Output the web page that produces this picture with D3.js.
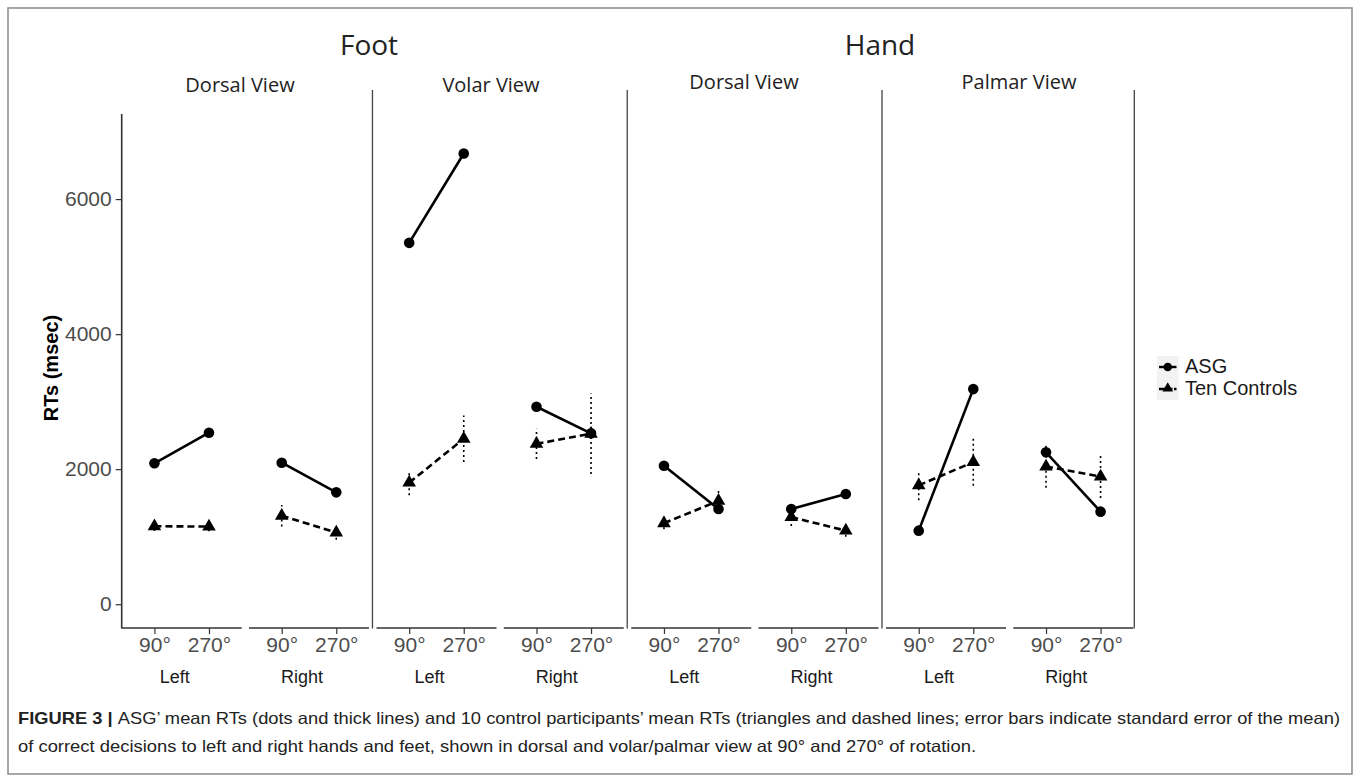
<!DOCTYPE html>
<html lang="en">
<head>
<meta charset="UTF-8">
<title>Figure 3 - mean RTs</title>
<script src="https://d3js.org/d3.v7.min.js"></script>
<style>
  *{padding:0; margin:0; box-sizing:border-box;}
  body{background:#fff;}
  text{font-family:"Liberation Sans", Arial, Helvetica, sans-serif;}
  .head{font-family:"Open Sans", sans-serif; fill:#222; text-anchor:middle;}
  .tick text{fill:#4d4d4d; font-size:21px;}
</style>
</head>
<body>
<script>
// panels: body part x view, each split into Left / Right, each with 90 and 270 deg
const bodyParts = ["Foot", "Hand"];
const views = ["Dorsal View", "Volar View", "Dorsal View", "Palmar View"];
const sides = ["Left", "Right"];
const angles = ["90°", "270°"];
const yTicks = [0, 2000, 4000, 6000];
const seriesNames = ["ASG", "Ten Controls"];

// [panel][side][angle]
const asgRT = [
  [[2087, 2540], [2096, 1657]],
  [[5352, 6675], [2925, 2531]],
  [[2051, 1410], [1410, 1632]],
  [[1090, 3186], [2250, 1371]]
];
const ctrlRT = [
  [[1155, 1150], [1310, 1060]],
  [[1800, 2450], [2375, 2525]],
  [[1200, 1530], [1290, 1090]],
  [[1760, 2105], [2040, 1890]]
];
const ctrlSE = [
  [[70, 70], [160, 105]],
  [[185, 345], [225, 595]],
  [[90, 180], [130, 90]],
  [[220, 350], [315, 315]]
];

const W = 1360, H = 781;
const svg = d3.select('body').append('svg').attr('width', W).attr('height', H);

// outer frame
svg.append('rect').attr('x', 8).attr('y', 8).attr('width', 1344).attr('height', 766)
   .attr('fill', 'none').attr('stroke', '#8a8a8a').attr('stroke-width', 1.5);

const y = d3.scaleLinear().domain([-352, 7260]).range([628, 114]);
const panelStart = d3.scaleLinear().domain([0, 3]).range([121.7, 886]);
const facetW = 120, facetStep = 127.3;
const xIn = d3.scalePoint().domain(angles).range([0, facetW]).padding(0.6);

function fx(p, s, a){ return panelStart(p) + s * facetStep + xIn(angles[a]); }

// y axis (first panel only)
const yAxis = svg.append('g')
  .attr('transform', 'translate(' + panelStart(0) + ',0)')
  .call(d3.axisLeft(y).tickValues(yTicks).tickFormat(d3.format('d')).tickSize(6).tickPadding(4));
yAxis.select('.domain').remove();
yAxis.selectAll('.tick line').attr('stroke', '#333').attr('stroke-width', 1.2);
svg.append('line').attr('x1', panelStart(0)).attr('x2', panelStart(0))
   .attr('y1', 114).attr('y2', 628.5).attr('stroke', '#333').attr('stroke-width', 1.6);

svg.append('text').attr('transform', 'translate(53,368) rotate(-90)')
   .attr('text-anchor', 'middle').attr('dominant-baseline', 'middle')
   .attr('font-weight', 'bold').attr('font-size', 20).attr('fill', '#000')
   .text('RTs (msec)');

// panel separators
for (let p = 1; p <= 4; p++) {
  const xl = p < 4 ? panelStart(p) - 4 : panelStart(3) + facetStep + facetW + 1;
  svg.append('line').attr('x1', xl).attr('x2', xl).attr('y1', 90).attr('y2', 628.5)
     .attr('stroke', '#444').attr('stroke-width', 1.3);
}

// x axis segments, ticks, labels
views.forEach(function(v, p){
  sides.forEach(function(s, si){
    const x0 = panelStart(p) + si * facetStep;
    const g = svg.append('g').attr('transform', 'translate(' + x0 + ',628)');
    g.call(d3.axisBottom(xIn).tickSize(6).tickPadding(3));
    g.select('.domain').attr('d', 'M0,0H' + facetW).attr('stroke', '#333').attr('stroke-width', 1.6);
    g.selectAll('.tick line').attr('stroke', '#333').attr('stroke-width', 1.2);
    g.selectAll('.tick text').attr('dy', '0.72em');
    svg.append('text').attr('x', x0 + facetW / 2 - 7).attr('y', 678)
       .attr('text-anchor', 'middle').attr('dominant-baseline', 'middle')
       .attr('font-size', 18).attr('fill', '#1a1a1a').text(s);
  });
});

// headers
const partX = [369, 880];
bodyParts.forEach(function(b, i){
  svg.append('text').attr('class', 'head').attr('x', partX[i]).attr('y', 55)
     .attr('font-size', 28).text(b);
});
const viewX = [240, 491, 744, 1019];
const viewY = [92, 92, 89, 89];
views.forEach(function(v, i){
  svg.append('text').attr('class', 'head').attr('x', viewX[i]).attr('y', viewY[i])
     .attr('font-size', 20).text(v);
});

// marks
const tri = d3.symbol().type(d3.symbolTriangle).size(80);
const plot = svg.append('g');
views.forEach(function(v, p){
  sides.forEach(function(s, si){
    const xa = fx(p, si, 0), xb = fx(p, si, 1);
    // error bars (controls)
    [0, 1].forEach(function(a){
      const x = fx(p, si, a), m = ctrlRT[p][si][a], e = ctrlSE[p][si][a];
      plot.append('line').attr('x1', x).attr('x2', x)
          .attr('y1', y(m - e)).attr('y2', y(m + e))
          .attr('stroke', '#000').attr('stroke-width', 1.6).attr('stroke-dasharray', '2,3');
    });
    // control dashed line
    plot.append('line').attr('x1', xa).attr('x2', xb)
        .attr('y1', y(ctrlRT[p][si][0])).attr('y2', y(ctrlRT[p][si][1]))
        .attr('stroke', '#000').attr('stroke-width', 2.6).attr('stroke-dasharray', '7,4');
    // ASG solid line
    plot.append('line').attr('x1', xa).attr('x2', xb)
        .attr('y1', y(asgRT[p][si][0])).attr('y2', y(asgRT[p][si][1]))
        .attr('stroke', '#000').attr('stroke-width', 2.6);
    [0, 1].forEach(function(a){
      const x = fx(p, si, a);
      plot.append('path').attr('d', tri)
          .attr('transform', 'translate(' + x + ',' + y(ctrlRT[p][si][a]) + ')').attr('fill', '#000');
      plot.append('circle').attr('cx', x).attr('cy', y(asgRT[p][si][a])).attr('r', 5.3).attr('fill', '#000');
    });
  });
});

// legend
const leg = svg.append('g').attr('transform', 'translate(1157,356)');
seriesNames.forEach(function(n, i){
  const g = leg.append('g').attr('transform', 'translate(0,' + i * 22 + ')');
  g.append('rect').attr('width', 21.5).attr('height', 22).attr('fill', '#f2f2f2');
  g.append('line').attr('x1', 2).attr('x2', 19.5).attr('y1', 11).attr('y2', 11)
   .attr('stroke', '#000').attr('stroke-width', 2.4)
   .attr('stroke-dasharray', i === 1 ? '6,1.5' : null);
  if (i === 0) g.append('circle').attr('cx', 10.75).attr('cy', 11).attr('r', 4.3).attr('fill', '#000');
  else g.append('path').attr('d', d3.symbol().type(d3.symbolTriangle).size(50))
        .attr('transform', 'translate(10.75,10.5)').attr('fill', '#000');
  g.append('text').attr('x', 28).attr('y', 12).attr('dominant-baseline', 'middle')
   .attr('font-size', 20).attr('fill', '#1a1a1a').text(n);
});

// caption
const cap1 = svg.append('text').attr('x', 18).attr('y', 724).attr('font-size', 16.5).attr('fill', '#222')
  .attr('textLength', 1322).attr('lengthAdjust', 'spacingAndGlyphs');
cap1.append('tspan').attr('font-weight', 'bold').text('FIGURE 3 | ');
cap1.append('tspan').text('ASG’ mean RTs (dots and thick lines) and 10 control participants’ mean RTs (triangles and dashed lines; error bars indicate standard error of the mean)');
svg.append('text').attr('x', 18).attr('y', 752).attr('font-size', 16.5).attr('fill', '#222')
  .attr('textLength', 958).attr('lengthAdjust', 'spacingAndGlyphs')
  .text('of correct decisions to left and right hands and feet, shown in dorsal and volar/palmar view at 90° and 270° of rotation.');
</script>
</body>
</html>
